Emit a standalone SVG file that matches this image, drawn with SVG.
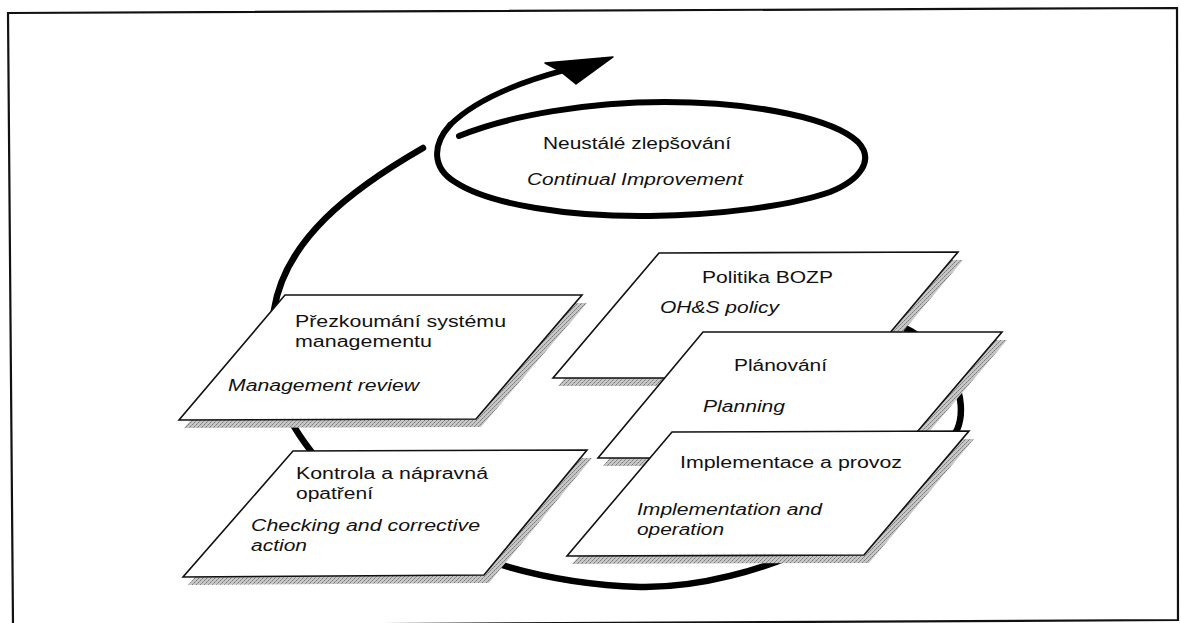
<svg xmlns="http://www.w3.org/2000/svg" width="1181" height="623" viewBox="0 0 1181 623">
  <defs>
    <!-- dithered grey used for the drop shadows of the sheets -->
    <pattern id="dither" width="4" height="4" patternUnits="userSpaceOnUse">
      <rect width="4" height="4" fill="#c6c6c6"/>
      <rect x="0" y="0" width="1" height="1" fill="#7a7a7a"/>
      <rect x="2" y="2" width="1" height="1" fill="#7a7a7a"/>
      <rect x="1" y="3" width="1" height="1" fill="#969696"/>
      <rect x="3" y="1" width="1" height="1" fill="#969696"/>
    </pattern>
    <style>
      .sheet { fill: #ffffff; stroke: #111111; stroke-width: 1.6; stroke-linejoin: miter; }
      .shadow { fill: url(#dither); stroke: none; }
      .txt { font-family: "Liberation Sans", Arial, sans-serif; font-size: 16px; fill: #111111; }
      .it { font-style: italic; }
      .thick { fill: none; stroke: #000000; stroke-linecap: round; stroke-linejoin: round; }
    </style>
  </defs>

  <rect width="1181" height="623" fill="#ffffff"/>

  <!-- outer frame -->
  <path d="M8,13 L1177,8 L1178,620 L13,626 Z" fill="none" stroke="#111111" stroke-width="2.2"/>

  <g id="connectors">
    <!-- main cycle arc, running behind the sheets -->
    <path class="thick" stroke-width="6.5" d="M423,148 C350,190 285,240 274,310 C263,380 285,420 318,460 C351,500 470,582 640,587 C755,589 900,520 957,430 C970,400 950,350 905,328 C885,318 870,305 860,298"/>
    <!-- loop shaft rising from the improvement ellipse -->
    <path class="thick" stroke-width="5.5" d="M450,125 C475,100 520,82 565,70"/>
    <path d="M613,57 L545,63 L560,71 L576,84 Z" fill="#000000" stroke="#000000" stroke-width="1.5" stroke-linejoin="round"/>
  </g>

  <g id="improvement">
    <path class="thick" stroke-width="6" d="M459,136 C510,115 590,102 665,102 C760,102 835,120 858,142 C875,160 860,180 830,192 C790,206 720,215 650,216 C570,217 490,205 455,182 C432,168 432,145 450,125"/>
    <text class="txt" x="543" y="149" textLength="188" lengthAdjust="spacingAndGlyphs">Neustálé zlepšování</text>
    <text class="txt it" x="527" y="185" textLength="216" lengthAdjust="spacingAndGlyphs">Continual Improvement</text>
  </g>

  <g id="review">
    <polygon class="shadow" points="290,303 587,303 481,427 184,428"/>
    <polygon class="sheet" points="285,295 582,295 476,419 179,420"/>
    <text class="txt" x="295" y="327" textLength="211" lengthAdjust="spacingAndGlyphs">Přezkoumání systému</text>
    <text class="txt" x="295" y="347" textLength="137" lengthAdjust="spacingAndGlyphs">managementu</text>
    <text class="txt it" x="228" y="391" textLength="191" lengthAdjust="spacingAndGlyphs">Management review</text>
  </g>

  <g id="checking">
    <polygon class="shadow" points="298,459 592,458 489,583 188,585"/>
    <polygon class="sheet" points="293,451 587,450 484,575 183,577"/>
    <text class="txt" x="296" y="479" textLength="192" lengthAdjust="spacingAndGlyphs">Kontrola a nápravná</text>
    <text class="txt" x="296" y="499" textLength="77" lengthAdjust="spacingAndGlyphs">opatření</text>
    <text class="txt it" x="251" y="531" textLength="229" lengthAdjust="spacingAndGlyphs">Checking and corrective</text>
    <text class="txt it" x="251" y="551" textLength="56" lengthAdjust="spacingAndGlyphs">action</text>
  </g>

  <g id="policy">
    <polygon class="shadow" points="664,261 963,260 857,386 558,386"/>
    <polygon class="sheet" points="659,253 958,252 852,378 553,378"/>
    <text class="txt" x="702" y="283" textLength="131" lengthAdjust="spacingAndGlyphs">Politika BOZP</text>
    <text class="txt it" x="660" y="313" textLength="119" lengthAdjust="spacingAndGlyphs">OH&amp;S policy</text>
  </g>

  <g id="planning">
    <polygon class="shadow" points="708,340 1007,340 900,466 603,466"/>
    <polygon class="sheet" points="703,332 1002,332 895,458 598,458"/>
    <text class="txt" x="734" y="371" textLength="93" lengthAdjust="spacingAndGlyphs">Plánování</text>
    <text class="txt it" x="703" y="412" textLength="82" lengthAdjust="spacingAndGlyphs">Planning</text>
  </g>

  <g id="implementation">
    <polygon class="shadow" points="677,440 974,439 869,563 572,564"/>
    <polygon class="sheet" points="672,432 969,431 864,555 567,556"/>
    <text class="txt" x="680" y="468" textLength="222" lengthAdjust="spacingAndGlyphs">Implementace a provoz</text>
    <text class="txt it" x="637" y="515" textLength="185" lengthAdjust="spacingAndGlyphs">Implementation and</text>
    <text class="txt it" x="637" y="535" textLength="87" lengthAdjust="spacingAndGlyphs">operation</text>
  </g>
</svg>
